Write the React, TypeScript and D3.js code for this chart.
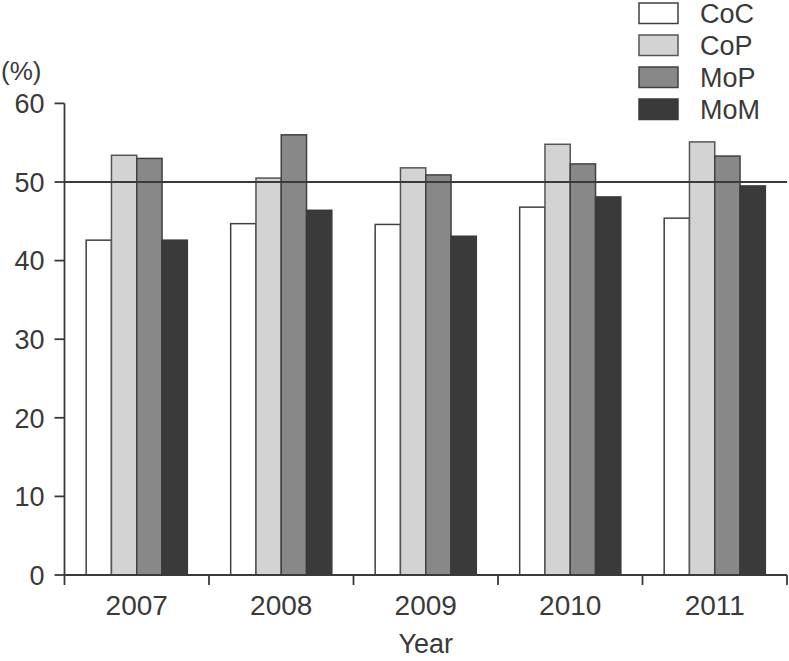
import * as d3 from "d3";

const years = ["2007", "2008", "2009", "2010", "2011"];
const seriesNames = ["CoC", "CoP", "MoP", "MoM"];
const coc = [42.6, 44.7, 44.6, 46.8, 45.4];
const cop = [53.4, 50.5, 51.8, 54.8, 55.1];
const mop = [53.0, 56.0, 50.9, 52.3, 53.3];
const mom = [42.6, 46.4, 43.1, 48.1, 49.5];
const yTicks = [0, 10, 20, 30, 40, 50, 60];
const refValue = 50;

const fills = ["#ffffff", "#d3d3d3", "#888888", "#3a3a3a"];
const strokes = ["#404040", "#555555", "#404040", "#3a3a3a"];
const ink = "#3a3a3a";
const font = "'Liberation Sans', Arial, sans-serif";

export default function App() {
  const width = 789;
  const height = 661;
  const left = 64.5;
  const right = 787;
  const top = 103.4;
  const bottom = 575;

  const values = [coc, cop, mop, mom];

  const x = d3.scaleBand().domain(years).range([left, right]).paddingInner(0.3).paddingOuter(0.15);
  const xs = d3.scaleBand().domain(seriesNames).range([0, x.bandwidth()]);
  const y = d3.scaleLinear().domain([0, 60]).range([bottom, top]);

  // tick positions between groups
  const step = x.step();
  const boundaries = d3.range(years.length + 1).map((i) => left + i * step);

  return (
    <svg
      width={width}
      height={height}
      style={{ position: "absolute", left: 0, top: 0, background: "#fff" }}
      fontFamily={font}
    >
      {years.map((yr, i) => (
        <g key={yr}>
          {seriesNames.map((s, j) => {
            const v = values[j][i];
            return (
              <rect
                key={s}
                x={(x(yr) as number) + (xs(s) as number)}
                y={y(v)}
                width={xs.bandwidth()}
                height={y(0) - y(v)}
                fill={fills[j]}
                stroke={strokes[j]}
                strokeWidth={1.5}
              />
            );
          })}
        </g>
      ))}

      {/* reference line */}
      <line x1={left} x2={right} y1={y(refValue)} y2={y(refValue)} stroke={ink} strokeWidth={1.8} />

      {/* y axis */}
      <line x1={left} x2={left} y1={top} y2={bottom} stroke={ink} strokeWidth={1.8} />
      {yTicks.map((t) => (
        <g key={t}>
          <line x1={left - 10} x2={left} y1={y(t)} y2={y(t)} stroke={ink} strokeWidth={1.8} />
          <text x={left - 20} y={y(t)} dy="0.36em" textAnchor="end" fontSize={27} fill={ink}>
            {t}
          </text>
        </g>
      ))}
      <text x={1} y={80} fontSize={26} fill={ink}>(%)</text>

      {/* x axis */}
      <line x1={left} x2={right} y1={bottom} y2={bottom} stroke={ink} strokeWidth={1.8} />
      {boundaries.map((b, i) => (
        <line key={i} x1={b} x2={b} y1={bottom} y2={bottom + 10} stroke={ink} strokeWidth={1.8} />
      ))}
      {years.map((yr) => (
        <text
          key={yr}
          x={(x(yr) as number) + x.bandwidth() / 2}
          y={615}
          textAnchor="middle"
          fontSize={28}
          fill={ink}
        >
          {yr}
        </text>
      ))}
      <text x={(left + right) / 2} y={653} textAnchor="middle" fontSize={27} fill={ink}>
        Year
      </text>

      {/* legend */}
      {seriesNames.map((s, j) => (
        <g key={s} transform={`translate(639, ${3 + j * 32})`}>
          <rect
            x={0}
            y={0}
            width={39}
            height={20.5}
            fill={fills[j]}
            stroke={strokes[j]}
            strokeWidth={1.5}
          />
          <text x={61} y={10.5} dy="0.36em" fontSize={27} fill={ink}>
            {s}
          </text>
        </g>
      ))}
    </svg>
  );
}
